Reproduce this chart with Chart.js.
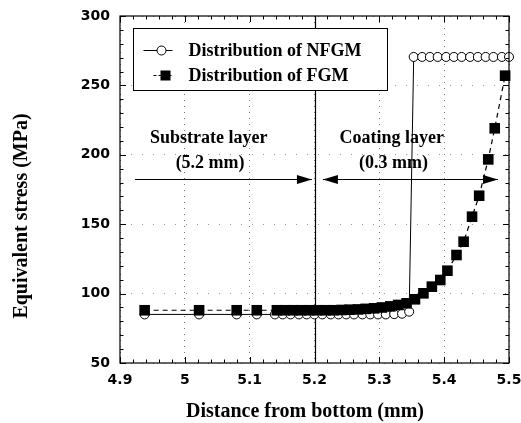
<!DOCTYPE html>
<html>
<head>
<meta charset="utf-8">
<script src="https://cdn.jsdelivr.net/npm/chart.js@4/dist/chart.umd.min.js"></script>
<style>
  html, body { margin: 0; padding: 0; background: #fff; }
  #wrap { width: 521px; height: 423px; }
</style>
</head>
<body>
<div id="wrap"><canvas id="myChart" width="521" height="423"></canvas></div>
<script>
// distance from bottom (mm) / equivalent stress (MPa)
const nfgmX = [4.938, 5.022, 5.080, 5.111, 5.139, 5.151, 5.163, 5.176, 5.188, 5.200, 5.212, 5.225,
  5.237, 5.249, 5.261, 5.274, 5.286, 5.298, 5.310, 5.323, 5.335, 5.346,
  5.353, 5.366, 5.378, 5.390, 5.403, 5.415, 5.427, 5.440, 5.452, 5.464, 5.476, 5.489, 5.500];
const nfgmY = [85, 85, 85, 85, 85, 85, 85, 85, 85, 85, 85, 85,
  85, 85, 85, 85, 85, 85, 85, 85.2, 85.5, 87,
  270.5, 270.5, 270.5, 270.5, 270.5, 270.5, 270.5, 270.5, 270.5, 270.5, 270.5, 270.5, 270.5];

const fgmX = [4.938, 5.022, 5.080, 5.111, 5.142, 5.154, 5.167, 5.179, 5.192, 5.204, 5.217, 5.229,
  5.242, 5.254, 5.267, 5.279, 5.292, 5.304, 5.317, 5.329, 5.342,
  5.355, 5.368, 5.381, 5.394, 5.405, 5.419, 5.430, 5.443, 5.454, 5.468, 5.478, 5.494];
const fgmY = [88, 88, 88, 88, 88, 88, 88, 88, 88, 88, 88, 88,
  88.2, 88.4, 88.6, 89, 89.4, 90, 90.8, 91.8, 93,
  95.9, 100.2, 105, 109.8, 116.5, 127.8, 137.4, 155.4, 170.5, 196.7, 219.1, 257];

const seriesLabels = ['Distribution of NFGM', 'Distribution of FGM'];
const xTicks = [4.9, 5, 5.1, 5.2, 5.3, 5.4, 5.5];
const yTicks = [50, 100, 150, 200, 250, 300];

// annotations (data units)
const layerBoundary = 5.2;
const layerNotes = [
  { x: 5.037, y: 212, text: 'Substrate layer' },
  { x: 5.039, y: 194, text: '(5.2 mm)' },
  { x: 5.319, y: 212, text: 'Coating layer' },
  { x: 5.322, y: 194, text: '(0.3 mm)' }
];
const arrows = [
  { from: 4.923, to: 5.196, y: 182.6, both: false },
  { from: 5.213, to: 5.483, y: 182.6, both: true }
];

const serif = '"Liberation Serif", "Times New Roman", serif';
const sans = '"DejaVu Sans", sans-serif';

function arrowHead(ctx, px, py, dir) {
  ctx.beginPath();
  ctx.moveTo(px, py);
  ctx.lineTo(px - dir * 15, py - 4.5);
  ctx.lineTo(px - dir * 15, py + 4.5);
  ctx.closePath();
  ctx.fill();
}

const decor = {
  id: 'decor',
  beforeDatasetsDraw(chart) {
    const { ctx, chartArea: a, scales: { x, y } } = chart;
    ctx.save();
    ctx.strokeStyle = '#000';
    ctx.fillStyle = '#000';
    // layer boundary
    const bx = Math.round(x.getPixelForValue(layerBoundary)) + 0.5;
    ctx.lineWidth = 1.2;
    ctx.beginPath(); ctx.moveTo(bx, a.top); ctx.lineTo(bx, a.bottom); ctx.stroke();
    // arrows
    ctx.lineWidth = 1;
    arrows.forEach(ar => {
      const x1 = x.getPixelForValue(ar.from), x2 = x.getPixelForValue(ar.to);
      const yy = Math.round(y.getPixelForValue(ar.y)) + 0.5;
      ctx.beginPath(); ctx.moveTo(x1, yy); ctx.lineTo(x2, yy); ctx.stroke();
      arrowHead(ctx, x2, yy, 1);
      if (ar.both) arrowHead(ctx, x1, yy, -1);
    });
    // layer labels
    ctx.font = 'bold 18px ' + serif;
    ctx.textAlign = 'center';
    ctx.textBaseline = 'middle';
    layerNotes.forEach(n => ctx.fillText(n.text, x.getPixelForValue(n.x), y.getPixelForValue(n.y)));
    ctx.restore();
  },
  afterDatasetsDraw(chart) {
    const { ctx, chartArea: a, scales: { x, y } } = chart;
    ctx.save();
    ctx.strokeStyle = '#000';
    ctx.fillStyle = '#000';
    ctx.lineWidth = 1.2;
    ctx.strokeRect(a.left, a.top, a.right - a.left, a.bottom - a.top);

    // inward ticks on all four sides
    ctx.lineWidth = 1;
    ctx.beginPath();
    for (let i = 0; i <= 30; i++) {
      const px = Math.round(x.getPixelForValue(4.9 + i * 0.02)) + 0.5;
      const len = i % 5 === 0 ? 6 : 3.5;
      ctx.moveTo(px, a.bottom); ctx.lineTo(px, a.bottom - len);
      ctx.moveTo(px, a.top); ctx.lineTo(px, a.top + len);
    }
    for (let v = 50; v <= 300; v += 10) {
      const py = Math.round(y.getPixelForValue(v)) + 0.5;
      const len = v % 50 === 0 ? 6 : 3.5;
      ctx.moveTo(a.left, py); ctx.lineTo(a.left + len, py);
      ctx.moveTo(a.right, py); ctx.lineTo(a.right - len, py);
    }
    ctx.stroke();

    // legend
    const lx = a.left + 13.5, ly = a.top + 12.5;
    ctx.fillStyle = '#fff';
    ctx.fillRect(lx, ly, 254, 62);
    ctx.strokeRect(lx, ly, 254, 62);
    ctx.fillStyle = '#000';
    const rows = [ly + 22, ly + 47];
    // row 1: circle with solid line
    ctx.beginPath(); ctx.moveTo(lx + 10, rows[0]); ctx.lineTo(lx + 39, rows[0]); ctx.stroke();
    ctx.beginPath(); ctx.arc(lx + 28, rows[0], 4.5, 0, Math.PI * 2);
    ctx.fillStyle = '#fff'; ctx.fill(); ctx.stroke();
    // row 2: square with dashed line
    ctx.setLineDash([3, 2]);
    ctx.beginPath(); ctx.moveTo(lx + 20, rows[1]); ctx.lineTo(lx + 39, rows[1]); ctx.stroke();
    ctx.setLineDash([]);
    ctx.fillStyle = '#000';
    ctx.fillRect(lx + 27, rows[1] - 5, 10, 10);
    ctx.font = 'bold 18px ' + serif;
    ctx.textAlign = 'left';
    ctx.textBaseline = 'middle';
    chart.data.datasets.forEach((ds, i) => ctx.fillText(ds.label, lx + 55, rows[i] + 1));

    // axis titles
    ctx.font = 'bold 20px ' + serif;
    ctx.textAlign = 'center';
    ctx.fillText('Distance from bottom (mm)', 305, 412);
    ctx.translate(22, 216);
    ctx.rotate(-Math.PI / 2);
    ctx.fillText('Equivalent stress (MPa)', 0, 0);
    ctx.restore();
  }
};

const toPoints = (xs, ys) => xs.map((v, i) => ({ x: v, y: ys[i] }));

const stressChart = new Chart(document.getElementById('myChart').getContext('2d'), {
  type: 'line',
  data: {
    datasets: [{
      label: seriesLabels[0],
      data: toPoints(nfgmX, nfgmY),
      borderColor: '#000',
      borderWidth: 1,
      pointStyle: 'circle',
      pointRadius: 4.5,
      pointBorderWidth: 1,
      pointBackgroundColor: '#fff',
      pointBorderColor: '#000',
      tension: 0,
      clip: false,
      order: 1
    }, {
      label: seriesLabels[1],
      data: toPoints(fgmX, fgmY),
      borderColor: '#000',
      borderWidth: 1.2,
      borderDash: [5, 4],
      pointStyle: 'rect',
      pointRadius: 7.5,
      pointBorderWidth: 0,
      pointBackgroundColor: '#000',
      pointBorderColor: '#000',
      tension: 0,
      clip: false,
      order: 0
    }]
  },
  options: {
    responsive: false,
    devicePixelRatio: 1,
    animation: false,
    layout: { padding: { top: 16, right: 12, left: 0, bottom: 0 } },
    plugins: { legend: { display: false }, tooltip: { enabled: false } },
    scales: {
      x: {
        type: 'linear',
        min: 4.9,
        max: 5.5,
        afterBuildTicks: s => { s.ticks = xTicks.map(v => ({ value: v })); },
        afterFit: s => { s.height = 60; s.paddingLeft = 0; s.paddingRight = 0; },
        ticks: {
          color: '#000',
          padding: 9,
          maxRotation: 0,
          font: { family: sans, size: 14, weight: 'bold' },
          callback: v => String(v)
        },
        grid: { drawTicks: false, color: '#777', lineWidth: 1 },
        border: { display: false, dash: [1, 5] }
      },
      y: {
        min: 50,
        max: 300,
        afterBuildTicks: s => { s.ticks = yTicks.map(v => ({ value: v })); },
        afterFit: s => { s.width = 120; s.paddingTop = 0; s.paddingBottom = 0; },
        ticks: {
          color: '#000',
          padding: 10,
          font: { family: sans, size: 14, weight: 'bold' }
        },
        grid: { drawTicks: false, color: '#999', lineWidth: 1 },
        border: { display: false, dash: [1, 10] }
      }
    }
  },
  plugins: [decor]
});
</script>
</body>
</html>
